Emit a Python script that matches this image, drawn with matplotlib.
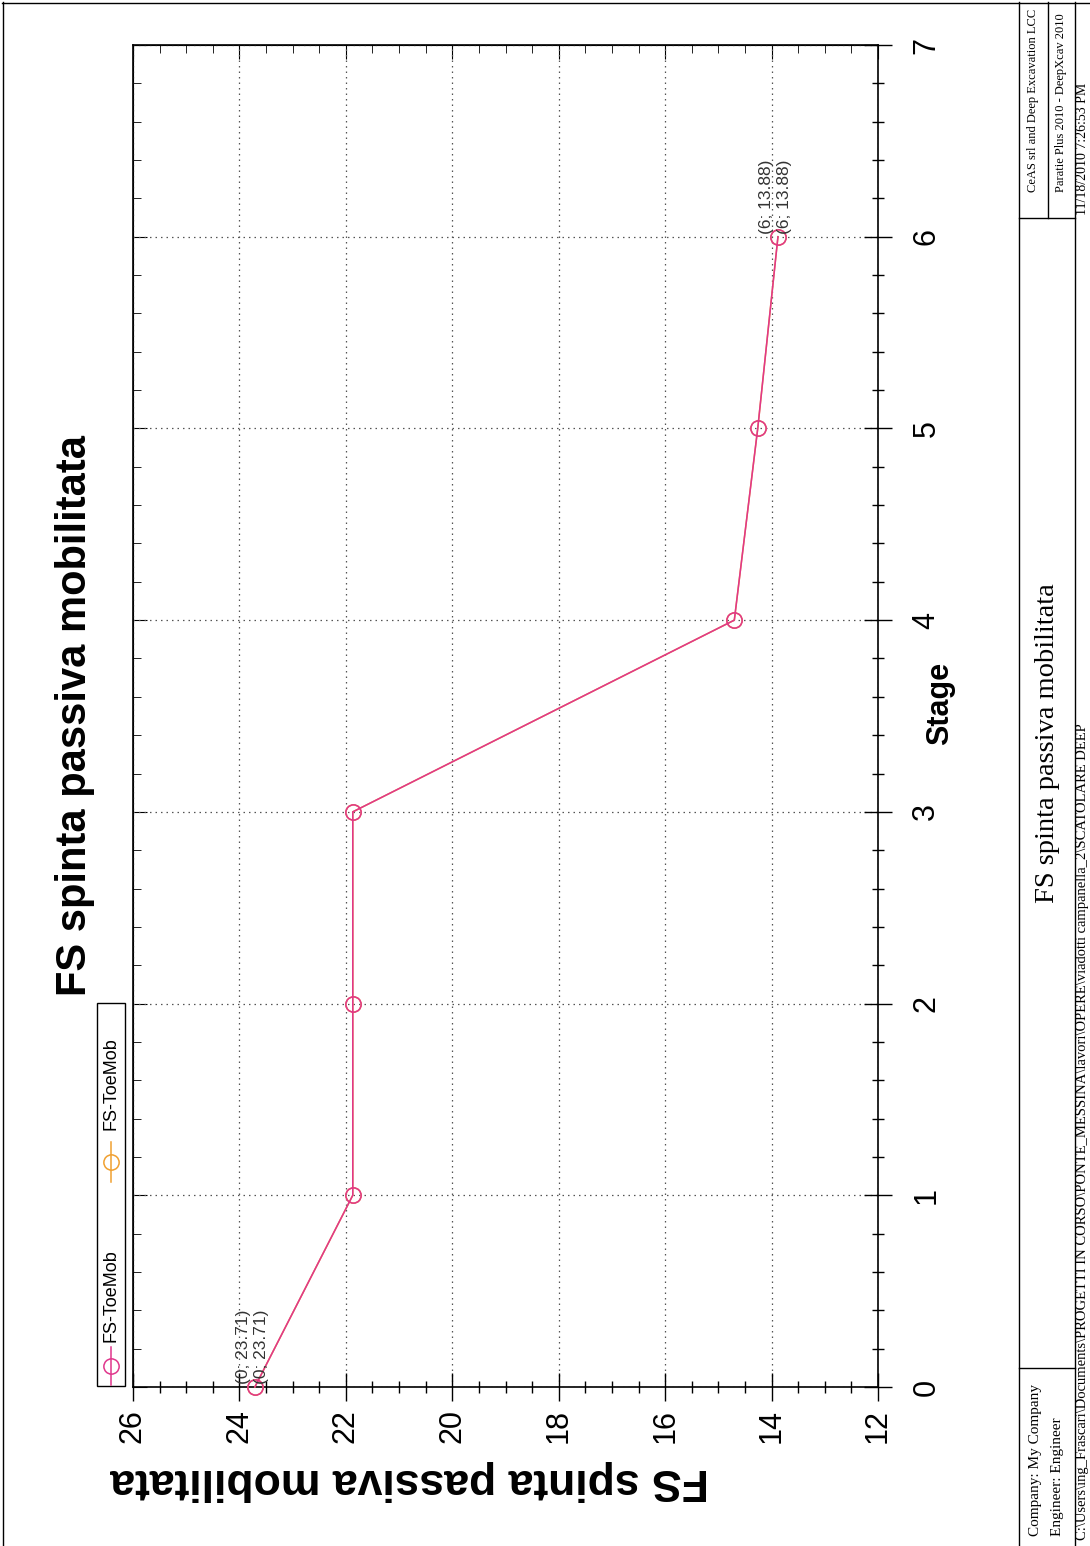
import matplotlib
matplotlib.use("Agg")
import matplotlib.pyplot as plt
from matplotlib.lines import Line2D
from matplotlib.patches import Rectangle
from matplotlib.ticker import MultipleLocator

# ---- data ----
stages = [0, 1, 2, 3, 4, 5, 6]
fs_toemob_1 = [23.71, 21.87, 21.87, 21.87, 14.70, 14.26, 13.88]
fs_toemob_2 = [23.71, 21.87, 21.87, 21.87, 14.70, 14.26, 13.88]
series_names = ["FS-ToeMob", "FS-ToeMob"]
series_colors = ["#E0368C", "#F0A030"]
fs_ticks = [26, 24, 22, 20, 18, 16, 14, 12]
stage_ticks = [0, 1, 2, 3, 4, 5, 6, 7]

title = "FS spinta passiva mobilitata"
x_label = "Stage"
y_label = "FS spinta passiva mobilitata"

W, H = 1090, 1546
SANS = "Liberation Sans"
SERIF = "Liberation Serif"


def fx(x):
    return x / W


def fy(y):
    return 1 - y / H


fig = plt.figure(figsize=(W / 100, H / 100), dpi=100)
fig.patch.set_facecolor("white")

# page is laid out sideways: FS runs horizontally (decreasing to the right),
# Stage runs vertically upward
ax_l, ax_r, ax_t, ax_b = 133, 878, 45, 1387
ax = fig.add_axes([fx(ax_l), fy(ax_b), (ax_r - ax_l) / W, (ax_b - ax_t) / H])
ax.set_xlim(26, 12)
ax.set_ylim(0, 7)
ax.set_xticks(fs_ticks)
ax.set_yticks(stage_ticks)
ax.xaxis.set_minor_locator(MultipleLocator(0.5))
ax.yaxis.set_minor_locator(MultipleLocator(0.2))
ax.yaxis.tick_right()
ax.tick_params(axis="both", which="major", direction="inout", length=20,
               width=1, colors="black", labelsize=22)
ax.tick_params(axis="both", which="minor", direction="inout", length=8,
               width=1, colors="black")
ax.tick_params(axis="x", which="major", pad=6)
ax.tick_params(axis="y", which="major", pad=14)
for lab in ax.get_xticklabels() + ax.get_yticklabels():
    lab.set_rotation(90)
    lab.set_fontfamily(SANS)
for lab in ax.get_yticklabels():
    lab.set_va("center")
for sp in ax.spines.values():
    sp.set_linewidth(1.2)

# inward-only ticks on the two unlabelled sides
sec_top = ax.secondary_xaxis("top")
sec_top.set_xticks(fs_ticks)
sec_top.xaxis.set_minor_locator(MultipleLocator(0.5))
sec_top.tick_params(axis="x", which="major", direction="in", length=10,
                    labeltop=False)
sec_top.tick_params(axis="x", which="minor", direction="in", length=6)
sec_left = ax.secondary_yaxis("left")
sec_left.set_yticks(stage_ticks)
sec_left.yaxis.set_minor_locator(MultipleLocator(0.2))
sec_left.tick_params(axis="y", which="major", direction="in", length=10,
                     labelleft=False)
sec_left.tick_params(axis="y", which="minor", direction="in", length=6)

ax.grid(True, which="major", color="#555555", linestyle=(0, (1.2, 3.2)),
        linewidth=0.9)
ax.set_axisbelow(True)

# series (second one lies underneath the first)
ax.plot(fs_toemob_2, stages, color=series_colors[1], lw=1.1, marker="o",
        markersize=11, markerfacecolor="none", markeredgewidth=1.1,
        clip_on=False, zorder=3)
ax.plot(fs_toemob_1, stages, color=series_colors[0], lw=1.1, marker="o",
        markersize=11, markerfacecolor="none", markeredgewidth=1.1,
        clip_on=False, zorder=4)

# value labels at first and last stage of each series
for vals, dx in ((fs_toemob_1, -11), (fs_toemob_2, 7)):
    for i in (0, len(stages) - 1):
        ax.annotate(f"({stages[i]}; {vals[i]:.2f})", xy=(vals[i], stages[i]),
                    xytext=(dx, 3), textcoords="offset pixels", rotation=90,
                    ha="center", va="bottom", fontsize=12.5, color="#333333",
                    family=SANS, annotation_clip=False, zorder=5)

# titles
fig.text(fx(75), fy((ax_t + ax_b) / 2), title, rotation=90, ha="center",
         va="center", fontsize=30, fontweight="bold", family=SANS)
fig.text(fx(940), fy(703), x_label, rotation=90, ha="center", va="center",
         fontsize=22, fontweight="bold", family=SANS)
fig.text(fx(410), fy(1481), y_label, rotation=180, ha="center", va="center",
         fontsize=32, fontweight="bold", family=SANS)

# legend strip
fig.add_artist(Rectangle((fx(97), fy(1386)), (125 - 97) / W, (1386 - 1003) / H,
                         transform=fig.transFigure, fill=False,
                         edgecolor="black", lw=1))
leg_entries = [(1385, 1347, 1366, 1342), (1182, 1142, 1162, 1130)]
for (y0, y1, ym, yt), name, col in zip(leg_entries, series_names, series_colors):
    fig.add_artist(Line2D([fx(111), fx(111)], [fy(y0), fy(y1)],
                          transform=fig.transFigure, color=col, lw=1.1))
    fig.add_artist(Line2D([fx(111)], [fy(ym)], transform=fig.transFigure,
                          color=col, marker="o", markersize=11,
                          markerfacecolor="none", markeredgewidth=1.1))
    fig.text(fx(111), fy(yt), name, rotation=90, ha="center", va="bottom",
             fontsize=13, family=SANS)


# page frame and title block
def hline(y, x0, x1):
    fig.add_artist(Line2D([fx(x0), fx(x1)], [fy(y), fy(y)],
                          transform=fig.transFigure, color="black", lw=1))


def vline(x, y0, y1):
    fig.add_artist(Line2D([fx(x), fx(x)], [fy(y0), fy(y1)],
                          transform=fig.transFigure, color="black", lw=1))


hline(2.5, 2, W)
vline(2.5, 2, H)
vline(1019, 2, H)
vline(1075, 2, H)
vline(1048, 2, 218)
hline(218, 1019, 1075)
hline(1368, 1019, 1075)

block_texts = [
    (1033, 192, "CeAS srl and Deep Excavation LCC", 9),
    (1061, 192, "Paratie Plus 2010 - DeepXcav 2010", 9),
    (1083, 215, "11/18/2010 7:26:53 PM", 10),
    (1035, 1536, "Company: My Company", 11),
    (1058, 1536, "Engineer: Engineer", 11),
    (1082.5, 1540, "C:\\Users\\ing_Frascari\\Documents\\PROGETTI IN CORSO\\"
                   "PONTE_MESSINA\\lavori\\OPERE\\viadotti campanella_2\\"
                   "SCATOLARE DEEP", 10.5),
]
for x, y, s, size in block_texts:
    fig.text(fx(x), fy(y), s, rotation=90, ha="center", va="bottom",
             fontsize=size, family=SERIF)
fig.text(fx(1048), fy(743), title, rotation=90, ha="center", va="center",
         fontsize=20.5, family=SERIF)

fig.savefig("out.png", dpi=100, facecolor="white")
